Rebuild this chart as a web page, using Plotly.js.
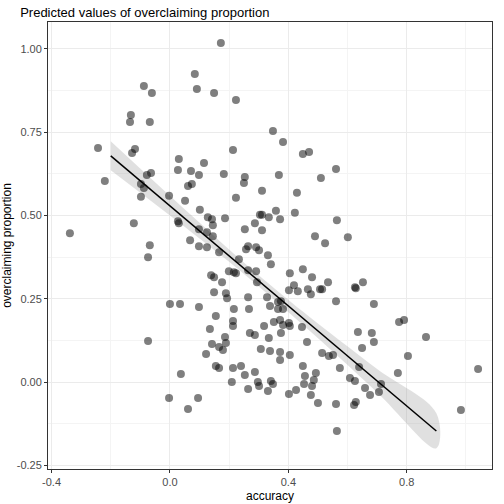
<!DOCTYPE html>
<html>
<head>
<meta charset="utf-8">
<script src="https://cdn.plot.ly/plotly-3.0.1.min.js"></script>
<style>
    html, body { margin: 0; padding: 0; background: #fff; }
    #chart { width: 504px; height: 504px; }
</style>
</head>
<body>
<div id="chart"></div>
<script>
const accuracy = [
    0.172, 0.084, 0.091, 0.149, -0.088, -0.061, 0.223, -0.132, -0.135, -0.068,
    -0.243, 0.213, -0.118, -0.128, 0.030, 0.027, 0.071, 0.115, 0.098, 0.182,
    0.253, 0.250, -0.220, -0.078, -0.064, -0.098, -0.088, -0.098, 0.061, 0.074,
    -0.003, 0.051, 0.223, 0.311, 0.101, 0.128, 0.142, 0.145, 0.186, 0.027,
    0.030, -0.122, 0.098, 0.125, 0.145, 0.253, 0.287, 0.311, 0.304, 0.334,
    0.311, -0.338, -0.068, 0.068, 0.098, 0.125, 0.264, 0.257, 0.291, 0.301,
    0.348, 0.382, 0.449, 0.470, 0.561, 0.510, 0.368, 0.429, 0.358, 0.372,
    0.422, 0.564, 0.490, 0.524, 0.601, -0.074, 0.166, 0.233, 0.331, 0.341,
    0.139, 0.149, 0.176, 0.199, 0.216, 0.223, 0.264, 0.291, 0.294, 0.149,
    0.189, 0.193, 0.264, 0.328, 0.000, 0.034, 0.098, 0.216, 0.267, 0.338,
    0.155, 0.213, 0.213, 0.135, 0.318, 0.270, 0.287, 0.334, -0.074, 0.186,
    0.189, 0.142, 0.166, 0.179, 0.122, 0.307, 0.338, 0.155, 0.166, 0.213,
    0.240, 0.253, 0.287, 0.037, 0.209, 0.297, 0.301, 0.264, 0.331, 0.341,
    -0.003, 0.095, 0.061, 0.405, 0.449, 0.480, 0.419, 0.402, 0.432, 0.466,
    0.476, 0.507, 0.514, 0.534, 0.625, 0.628, 0.652, 0.561, 0.689, 0.365,
    0.375, 0.365, 0.382, 0.351, 0.372, 0.382, 0.402, 0.405, 0.446, 0.375,
    0.463, 0.372, 0.372, 0.405, 0.514, 0.537, 0.551, 0.449, 0.456, 0.493,
    0.574, 0.486, 0.453, 0.480, 0.348, 0.402, 0.426, 0.476, 0.500, 0.561,
    0.564, 0.608, 0.625, 0.659, 0.676, 0.706, 0.622, 0.628, 0.635, 0.682,
    0.689, 0.649, 0.639, 0.713, 0.770, 0.804, 0.774, 0.791, 0.865, 1.041,
    0.983
];

const overclaiming = [
    1.018, 0.925, 0.880, 0.868, 0.889, 0.868, 0.847, 0.802, 0.781, 0.781,
    0.703, 0.697, 0.700, 0.688, 0.670, 0.637, 0.634, 0.658, 0.622, 0.625,
    0.616, 0.598, 0.604, 0.622, 0.628, 0.595, 0.583, 0.556, 0.589, 0.595,
    0.559, 0.544, 0.553, 0.574, 0.517, 0.495, 0.489, 0.471, 0.492, 0.483,
    0.477, 0.477, 0.459, 0.450, 0.438, 0.459, 0.477, 0.502, 0.502, 0.495,
    0.456, 0.447, 0.411, 0.426, 0.408, 0.405, 0.408, 0.399, 0.405, 0.396,
    0.754, 0.721, 0.685, 0.691, 0.640, 0.613, 0.622, 0.568, 0.514, 0.489,
    0.508, 0.486, 0.438, 0.417, 0.435, 0.375, 0.390, 0.369, 0.381, 0.354,
    0.321, 0.315, 0.300, 0.333, 0.330, 0.327, 0.336, 0.333, 0.300, 0.270,
    0.267, 0.252, 0.255, 0.255, 0.234, 0.234, 0.225, 0.219, 0.219, 0.228,
    0.198, 0.183, 0.168, 0.159, 0.168, 0.147, 0.141, 0.132, 0.123, 0.135,
    0.117, 0.114, 0.105, 0.096, 0.084, 0.099, 0.093, 0.048, 0.042, 0.042,
    0.048, 0.021, 0.030, 0.024, 0.000, 0.000, -0.012, -0.021, -0.027, 0.003,
    -0.048, -0.048, -0.081, 0.327, 0.339, 0.315, 0.291, 0.276, 0.273, 0.279,
    0.264, 0.279, 0.279, 0.300, 0.285, 0.282, 0.300, 0.243, 0.234, 0.240,
    0.243, 0.219, 0.219, 0.180, 0.186, 0.171, 0.177, 0.168, 0.165, 0.147,
    0.120, 0.090, 0.066, 0.081, 0.087, 0.078, 0.081, 0.048, 0.018, 0.027,
    0.042, 0.006, -0.006, -0.012, -0.006, -0.036, -0.024, -0.039, -0.063, -0.066,
    -0.147, 0.012, 0.003, -0.018, -0.039, -0.030, -0.069, -0.060, 0.150, 0.147,
    0.120, 0.102, 0.045, -0.006, 0.027, 0.078, 0.180, 0.186, 0.135, 0.039,
    -0.084
];

// Predicted line and 95% band
const predX     = [-0.2,   0.0,   0.2,   0.3,   0.45,   0.7,    0.9];
const predY     = [0.679,  0.529, 0.379, 0.304, 0.191, 0.004, -0.147];
const predLower = [0.636,  0.500, 0.361, 0.287, 0.171, -0.031, -0.199];
const predUpper = [0.723,  0.559, 0.398, 0.321, 0.211, 0.039, -0.094];

const xTicks = [-0.4, 0.0, 0.4, 0.8];
const xTickLabels = ['-0.4', '0.0', '0.4', '0.8'];
const yTicks = [-0.25, 0, 0.25, 0.5, 0.75, 1.0];
const yTickLabels = ['-0.25', '0.00', '0.25', '0.50', '0.75', '1.00'];

const band = {
    x: predX.concat(predX.slice().reverse()),
    y: predUpper.concat(predLower.slice().reverse()),
    type: 'scatter',
    mode: 'lines',
    fill: 'toself',
    fillcolor: 'rgba(153,153,153,0.3)',
    line: { width: 0, shape: 'spline' },
    hoverinfo: 'skip'
};

const points = {
    x: accuracy,
    y: overclaiming,
    type: 'scatter',
    mode: 'markers',
    marker: { size: 8, color: 'rgba(0,0,0,0.5)', line: { width: 0 } }
};

const line = {
    x: predX,
    y: predY,
    type: 'scatter',
    mode: 'lines',
    line: { color: '#000', width: 1.5 }
};

const axisCommon = {
    showline: true,
    mirror: true,
    linecolor: '#333333',
    linewidth: 1,
    gridcolor: '#ebebeb',
    gridwidth: 1,
    zeroline: false,
    ticks: 'outside',
    ticklen: 3,
    tickcolor: '#333333',
    tickfont: { size: 11, color: '#4d4d4d' }
};

const layout = {
    width: 504,
    height: 504,
    plot_bgcolor: '#ffffff',
    paper_bgcolor: '#ffffff',
    font: { family: 'Liberation Sans, Arial, sans-serif', color: '#000' },
    margin: { l: 48, r: 12, t: 22, b: 35 },
    showlegend: false,
    title: {
        text: 'Predicted values of overclaiming proportion',
        font: { size: 13, color: '#000' },
        x: 0.04, xanchor: 'left', y: 0.985, yanchor: 'top'
    },
    xaxis: {
        ...axisCommon,
        range: [-0.412, 1.088],
        tickvals: xTicks,
        ticktext: xTickLabels,
        minor: { dtick: 0.2, tick0: 0, showgrid: true, gridcolor: '#f4f4f4', ticks: '' },
        title: { text: 'accuracy', font: { size: 12 }, standoff: 4 }
    },
    yaxis: {
        ...axisCommon,
        range: [-0.261, 1.081],
        tickvals: yTicks,
        ticktext: yTickLabels,
        minor: { dtick: 0.125, tick0: 0, showgrid: true, gridcolor: '#f4f4f4', ticks: '' },
        title: { text: 'overclaiming proportion', font: { size: 12 }, standoff: 4 }
    }
};

Plotly.newPlot('chart', [band, points, line], layout, { displayModeBar: false, staticPlot: true });
</script>
</body>
</html>
